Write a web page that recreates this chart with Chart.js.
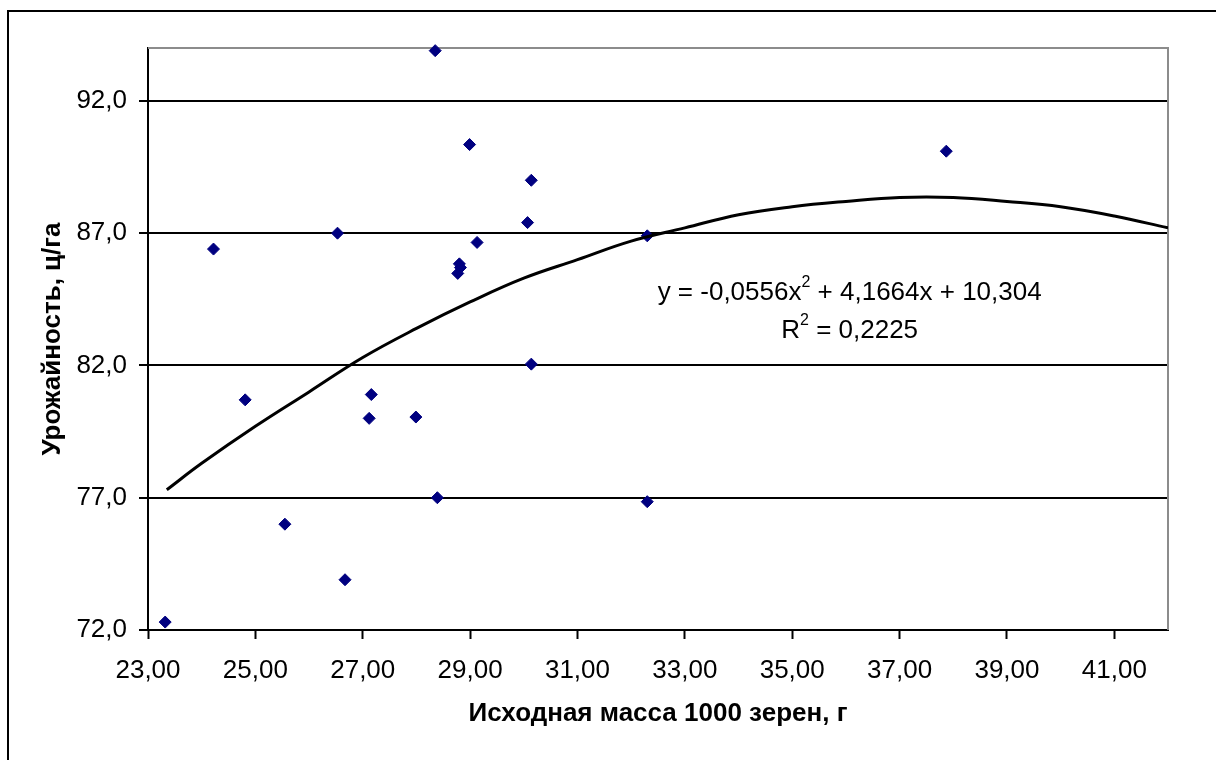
<!DOCTYPE html>
<html>
<head>
<meta charset="utf-8">
<title>Урожайность</title>
<script src="https://cdn.jsdelivr.net/npm/chart.js@4"></script>
<style>
  html, body { margin: 0; padding: 0; background: #fff; }
  #wrap { width: 1216px; height: 760px; position: relative; }
</style>
</head>
<body>
<div id="wrap"><canvas id="yieldChart"></canvas></div>
<script>
// исходная масса 1000 зерен, г
var grainMass = [23.32, 24.22, 24.81, 25.55, 26.53, 26.67, 27.12, 27.16, 27.99, 28.35, 28.39,
                 28.77, 28.80, 28.82, 28.99, 29.13, 30.07, 30.14, 30.14, 32.30, 32.30, 37.87];
// урожайность, ц/га
var cropYield = [72.3, 86.4, 80.7, 76.0, 87.0, 73.9, 80.0, 80.9, 80.05, 93.9, 77.0,
                 85.48, 85.84, 85.7, 90.35, 86.65, 87.4, 89.0, 82.05, 86.9, 76.85, 90.1];

// линия тренда
var trendX = [23.35, 24, 25, 26, 27, 28, 29, 30, 31, 32, 33, 34, 35, 36, 37, 38, 39, 40, 41, 42];
var trendY = [77.3, 78.3, 79.7, 81.0, 82.3, 83.4, 84.4, 85.3, 86.0, 86.7, 87.2, 87.7, 88.0, 88.2, 88.35, 88.35, 88.2, 88.0, 87.65, 87.2];

var xTicks = [23, 25, 27, 29, 31, 33, 35, 37, 39, 41];
var xTickLabels = ['23,00', '25,00', '27,00', '29,00', '31,00', '33,00', '35,00', '37,00', '39,00', '41,00'];
var yTicks = [72, 77, 82, 87, 92];
var yTickLabels = ['72,0', '77,0', '82,0', '87,0', '92,0'];

var eqLine1 = [['y = -0,0556x', false], ['2', true], [' + 4,1664x + 10,304', false]];
var eqLine2 = [['R', false], ['2', true], [' = 0,2225', false]];

var FONT = '"Liberation Sans", Arial, sans-serif';

var framePlugin = {
    id: 'frame',
    beforeDraw: function(chart) {
        var c = chart.ctx;
        c.save();
        c.fillStyle = '#fff';
        c.fillRect(0, 0, chart.width, chart.height);
        c.strokeStyle = '#000';
        c.lineWidth = 2;
        c.beginPath();
        c.moveTo(chart.width, 11);
        c.lineTo(8, 11);
        c.lineTo(8, chart.height);
        c.stroke();
        c.restore();
    },
    beforeDatasetsDraw: function(chart) {
        var a = chart.chartArea, c = chart.ctx;
        c.save();
        c.strokeStyle = '#8c8c8c';
        c.lineWidth = 2;
        c.beginPath();
        c.moveTo(a.left, a.top);
        c.lineTo(a.right, a.top);
        c.lineTo(a.right, a.bottom);
        c.stroke();
        c.restore();
    },
    afterDraw: function(chart) {
        var c = chart.ctx;
        var cx = chart.scales.x.getPixelForValue(36.07);
        var by = chart.scales.y.getPixelForValue(84.49);
        function drawLine(parts, baseY) {
            var w = 0, i;
            for (i = 0; i < parts.length; i++) {
                c.font = (parts[i][1] ? '16px ' : '26px ') + FONT;
                w += c.measureText(parts[i][0]).width;
            }
            var x = cx - w / 2;
            for (i = 0; i < parts.length; i++) {
                c.font = (parts[i][1] ? '16px ' : '26px ') + FONT;
                c.fillText(parts[i][0], x, parts[i][1] ? baseY - 13 : baseY);
                x += c.measureText(parts[i][0]).width;
            }
        }
        c.save();
        c.fillStyle = '#000';
        c.textBaseline = 'alphabetic';
        c.textAlign = 'left';
        drawLine(eqLine1, by);
        drawLine(eqLine2, by + 38);
        c.restore();
    }
};

var points = grainMass.map(function(m, i) { return { x: m, y: cropYield[i] }; });
var trend = trendX.map(function(m, i) { return { x: m, y: trendY[i] }; });

new Chart(document.getElementById('yieldChart'), {
    type: 'scatter',
    data: {
        datasets: [
            {
                label: 'Тренд',
                data: trend,
                showLine: true,
                borderColor: '#000',
                borderWidth: 3,
                pointRadius: 0,
                tension: 0.4,
                order: 0
            },
            {
                label: 'Урожайность',
                data: points,
                pointStyle: 'rectRot',
                pointRadius: 6,
                pointBorderWidth: 1,
                backgroundColor: '#000080',
                borderColor: '#000080',
                clip: false,
                order: 1
            }
        ]
    },
    options: {
        responsive: true,
        maintainAspectRatio: false,
        animation: false,
        layout: { padding: { top: 48, right: 48, left: 0, bottom: 0 } },
        plugins: { legend: { display: false }, tooltip: { enabled: false } },
        scales: {
            x: {
                type: 'linear',
                min: 23,
                max: 42,
                afterFit: function(scale) { scale.height = 130; },
                afterBuildTicks: function(scale) {
                    scale.ticks = xTicks.map(function(v) { return { value: v }; });
                },
                border: { color: '#000', width: 2 },
                grid: { drawOnChartArea: false, drawTicks: true, tickLength: 9, tickColor: '#000', tickWidth: 2 },
                ticks: {
                    color: '#000',
                    padding: 16,
                    maxRotation: 0,
                    font: { family: FONT, size: 26 },
                    callback: function(v, i) { return xTickLabels[i]; }
                },
                title: {
                    display: true,
                    text: 'Исходная масса 1000 зерен, г',
                    color: '#000',
                    font: { family: FONT, size: 26, weight: 'bold' },
                    padding: { top: 0, bottom: 31 }
                }
            },
            y: {
                type: 'linear',
                min: 72,
                max: 94,
                afterFit: function(scale) { scale.width = 148; },
                afterBuildTicks: function(scale) {
                    scale.ticks = yTicks.map(function(v) { return { value: v }; });
                },
                border: { color: '#000', width: 2 },
                grid: { color: '#000', lineWidth: 2, drawTicks: true, tickLength: 9, tickColor: '#000' },
                ticks: {
                    color: '#000',
                    padding: 12,
                    font: { family: FONT, size: 26 },
                    callback: function(v, i) { return yTickLabels[i]; }
                },
                title: {
                    display: true,
                    text: 'Урожайность, ц/га',
                    color: '#000',
                    font: { family: FONT, size: 26, weight: 'bold' },
                    padding: { top: 37, bottom: 0 }
                }
            }
        }
    },
    plugins: [framePlugin]
});
</script>
</body>
</html>
